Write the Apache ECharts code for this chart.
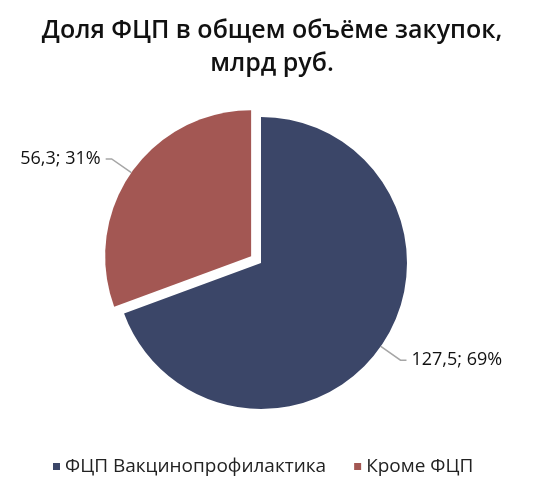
<!DOCTYPE html>
<html><head><meta charset="utf-8">
<script src="https://cdn.jsdelivr.net/npm/echarts@6/dist/echarts.min.js"></script>
<style>html,body{margin:0;padding:0;background:#fff}#c{width:544px;height:504px}</style>
</head><body><div id="c"></div>
<script>
const categories = ['ФЦП Вакцинопрофилактика', 'Кроме ФЦП'];
const values = [127.5, 56.3];
const colors = ['#3b4668', '#a35753'];
const titleText = 'Доля ФЦП в общем объёме закупок,\nмлрд руб.';

const chart = echarts.init(document.getElementById('c'));
chart.setOption({
  backgroundColor: '#fff',
  title: {
    text: titleText, left: 'center', top: 9,
    textStyle: { fontFamily: 'Open Sans', fontSize: 25, fontWeight: 600, color: '#111', lineHeight: 33, align: 'center' }
  },
  legend: {
    bottom: 23, left: 48, itemWidth: 7, itemHeight: 7, icon: 'rect', itemGap: 28,
    textStyle: { fontFamily: 'Open Sans', fontSize: 19, color: '#222' },
    data: categories
  },
  series: [{
    type: 'pie',
    center: [261, 263], radius: 146,
    startAngle: 90, clockwise: true,
    selectedMode: 'single', selectedOffset: 12,
    animation: false,
    label: {
      show: true, position: 'outside', fontFamily: 'Open Sans', fontSize: 18, color: '#111',
      formatter: p => String(p.value).replace('.', ',') + '; ' + Math.round(p.percent) + '%'
    },
    labelLine: { show: true, length: 24, length2: 6, lineStyle: { color: '#a6a6a6', width: 1.5 } },
    data: categories.map((n, i) => ({ name: n, value: values[i], selected: i === 1, itemStyle: { color: colors[i] } }))
  }]
});
</script></body></html>
